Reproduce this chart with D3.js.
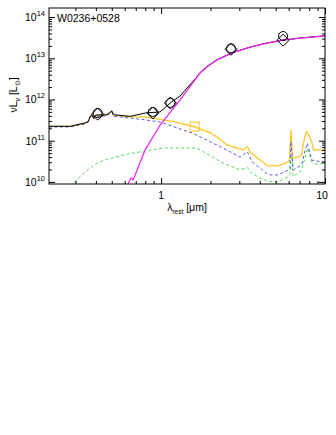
<!DOCTYPE html>
<html>
<head>
<meta charset="utf-8">
<script src="https://cdn.jsdelivr.net/npm/d3@7"></script>
<style>
  body { margin: 0; background: #fff; }
  svg text { font-family: "Liberation Sans", Arial, sans-serif; fill: #000; }
</style>
</head>
<body>
<div id="viz"></div>
<script>
let w = 336;
let h = 435;

// ---- data (lambda in micron, nuLnu in Lsun) ----
let sourceName = "W0236+0528";

let totalLam = [0.207, 0.279, 0.344, 0.360, 0.369, 0.378, 0.387, 0.401, 0.467, 0.500, 0.512, 0.647, 0.80, 0.986, 1.135, 1.306, 1.65, 1.73, 1.935, 2.19, 2.71, 3.49, 4.43, 5.54, 7.04, 10];
let totalVal = [2.24e11, 2.24e11, 2.7e11, 2.95e11, 3.9e11, 4.27e11, 3.55e11, 4.2e11, 4.27e11, 5.3e11, 4.27e11, 3.9e11, 4.7e11, 5.0e11, 8.2e11, 1.22e12, 3.5e12, 4.5e12, 6.6e12, 9.2e12, 1.36e13, 1.87e13, 2.35e13, 2.76e13, 3.1e13, 3.5e13];

let hotLam = [0.62, 0.656, 0.675, 0.80, 0.986, 1.306, 1.73, 1.935, 2.19, 2.71, 3.49, 4.43, 5.54, 7.04, 10];
let hotVal = [8e9, 1.25e10, 1.12e10, 6.0e10, 2.4e11, 9.8e11, 4.4e12, 6.5e12, 9.1e12, 1.35e13, 1.86e13, 2.34e13, 2.75e13, 3.1e13, 3.5e13];

let hostLam = [0.207, 0.279, 0.344, 0.360, 0.369, 0.378, 0.387, 0.401, 0.467, 0.500, 0.512, 0.647, 0.80, 0.986, 1.217, 1.59, 2.0, 2.24, 2.52, 3.18, 3.37, 3.49, 4.01, 4.49, 5.17, 5.95, 6.07, 6.2, 6.34, 7.18, 7.46, 7.7, 7.98, 8.3, 8.5, 9.1, 10];
let hostVal = [2.22e11, 2.22e11, 2.68e11, 2.93e11, 3.85e11, 4.2e11, 3.5e11, 4.15e11, 4.2e11, 5.2e11, 4.2e11, 3.85e11, 3.8e11, 3.3e11, 2.85e11, 2.2e11, 1.55e11, 1.15e11, 7.9e10, 6.0e10, 7.2e10, 5.3e10, 3.4e10, 2.45e10, 2.45e10, 3.05e10, 3.3e10, 1.83e11, 3.76e10, 4.27e10, 1.04e11, 1.66e11, 1.38e11, 9.3e10, 6.0e10, 6.0e10, 5.8e10];

let blueLam = [0.207, 0.279, 0.344, 0.36, 0.369, 0.38, 0.388, 0.407, 0.469, 0.50, 0.513, 0.647, 0.80, 0.986, 1.19, 1.57, 2.29, 3.03, 3.36, 3.58, 4.01, 4.51, 5.19, 5.98, 6.1, 6.2, 6.4, 7.21, 7.5, 7.8, 8.3, 8.8, 10];
let blueVal = [2.15e11, 2.15e11, 2.56e11, 2.85e11, 3.66e11, 4.0e11, 3.37e11, 3.9e11, 4.0e11, 5.0e11, 3.9e11, 3.56e11, 3.2e11, 2.85e11, 2.2e11, 1.5e11, 7.2e10, 4.0e10, 5.4e10, 3.1e10, 2.18e10, 1.48e10, 1.48e10, 1.95e10, 2.1e10, 9.5e10, 1.95e10, 2.58e10, 5.3e10, 8.7e10, 3.4e10, 3.2e10, 3.1e10];

let greenLam = [0.28, 0.344, 0.405, 0.467, 0.629, 0.80, 1.058, 1.66, 1.81, 2.4, 3.03, 3.36, 3.49, 3.9, 4.51, 5.19, 5.98, 6.1, 6.24, 6.4, 7.21, 7.83, 8.3, 8.7, 10];
let greenVal = [8e9, 1.75e10, 2.84e10, 3.55e10, 4.77e10, 5.65e10, 6.7e10, 6.6e10, 5.4e10, 2.84e10, 1.95e10, 2.25e10, 1.75e10, 1.32e10, 1.02e10, 1.02e10, 1.34e10, 1.5e10, 4.5e10, 1.34e10, 1.95e10, 6.6e10, 3.05e10, 2.73e10, 2.84e10];

let photLam = [0.41, 0.89, 1.14, 2.67, 5.55];
let photVal = [4.7e11, 5.0e11, 8.3e11, 1.74e13, 3.47e13];
let modelVal = [4.4e11, 4.7e11, 8.2e11, 1.65e13, 2.75e13];

let squareLam = [1.6];
let squareVal = [2.2e11];

let yMajor = [1e10, 1e11, 1e12, 1e13, 1e14];
let yMajorExp = ["10", "11", "12", "13", "14"];
let xMajor = [1, 10];
let xMajorLabels = ["1", "10"];

// ---- layout ----
let padLeft = 49, padRight = 325, padTop = 8, padBottom = 184;

let viz = d3.select("#viz")
    .append("svg")
    .attr("width", w)
    .attr("height", h)
    .attr("viewBox", "0 0 " + w + " " + h);

let xScale = d3.scaleLog().domain([0.207, 10]).range([padLeft, padRight]);
let yScale = d3.scaleLog().domain([8.9e9, 1.66e14]).range([padBottom, padTop]);

viz.append("clipPath").attr("id", "plotClip")
    .append("rect")
    .attr("x", padLeft).attr("y", padTop)
    .attr("width", padRight - padLeft).attr("height", padBottom - padTop);

function toPoints(lams, vals) {
    return lams.map(function (l, i) { return [l, vals[i]]; });
}

let lineMaker = d3.line()
    .x(function (d) { return xScale(d[0]); })
    .y(function (d) { return yScale(d[1]); });

let curves = viz.append("g").attr("clip-path", "url(#plotClip)");

// draw order: back to front
curves.append("path")
    .attr("d", lineMaker(toPoints(greenLam, greenVal)))
    .attr("fill", "none")
    .attr("stroke", "#4fdc4f")
    .attr("stroke-width", 1)
    .attr("stroke-dasharray", "3,2.5");

curves.append("path")
    .attr("d", lineMaker(toPoints(hostLam, hostVal)))
    .attr("fill", "none")
    .attr("stroke", "#ffc21a")
    .attr("stroke-width", 1.2);

curves.append("path")
    .attr("d", lineMaker(toPoints(blueLam, blueVal)))
    .attr("fill", "none")
    .attr("stroke", "#4f5cf0")
    .attr("stroke-width", 1)
    .attr("stroke-dasharray", "3,2.5");

curves.append("path")
    .attr("d", lineMaker(toPoints(totalLam, totalVal)))
    .attr("fill", "none")
    .attr("stroke", "#000")
    .attr("stroke-width", 1);

curves.append("path")
    .attr("d", lineMaker(toPoints(hotLam, hotVal)))
    .attr("fill", "none")
    .attr("stroke", "#f21cf2")
    .attr("stroke-width", 1.2);

// yellow square marker
viz.selectAll(".sq").data(toPoints(squareLam, squareVal)).enter()
    .append("rect")
    .attr("class", "sq")
    .attr("x", function (d) { return xScale(d[0]) - 4.5; })
    .attr("y", function (d) { return yScale(d[1]) - 4.5; })
    .attr("width", 9).attr("height", 9)
    .attr("fill", "none")
    .attr("stroke", "#ffc21a")
    .attr("stroke-width", 1);

// photometry circles and model diamonds
viz.selectAll(".obs").data(toPoints(photLam, photVal)).enter()
    .append("circle")
    .attr("class", "obs")
    .attr("cx", function (d) { return xScale(d[0]); })
    .attr("cy", function (d) { return yScale(d[1]); })
    .attr("r", 4.5)
    .attr("fill", "none")
    .attr("stroke", "#000")
    .attr("stroke-width", 1);

viz.selectAll(".mod").data(toPoints(photLam, modelVal)).enter()
    .append("path")
    .attr("class", "mod")
    .attr("d", function (d) {
        let cx = xScale(d[0]), cy = yScale(d[1]), s = 6;
        return "M" + cx + "," + (cy - s) + "L" + (cx + s) + "," + cy + "L" + cx + "," + (cy + s) + "L" + (cx - s) + "," + cy + "Z";
    })
    .attr("fill", "none")
    .attr("stroke", "#000")
    .attr("stroke-width", 1);

// ---- axes (IDL style, ticks inward on all four sides) ----
let yMinor = [];
yMajor.forEach(function (m) {
    for (let k = 2; k <= 9; k++) {
        if (m * k < 1.66e14) yMinor.push(m * k);
    }
});
let xMinor = [0.3, 0.4, 0.5, 0.6, 0.7, 0.8, 0.9, 2, 3, 4, 5, 6, 7, 8, 9];

let axisStyle = function (g) {
    g.select(".domain").remove();
    g.selectAll("line").attr("stroke", "#000").attr("stroke-width", 1);
};

viz.append("g").attr("transform", "translate(" + padLeft + ",0)")
    .call(d3.axisLeft(yScale).tickValues(yMajor).tickSize(-6).tickFormat(""))
    .call(axisStyle);
viz.append("g").attr("transform", "translate(" + padLeft + ",0)")
    .call(d3.axisLeft(yScale).tickValues(yMinor).tickSize(-3).tickFormat(""))
    .call(axisStyle);
viz.append("g").attr("transform", "translate(" + padRight + ",0)")
    .call(d3.axisRight(yScale).tickValues(yMajor).tickSize(-6).tickFormat(""))
    .call(axisStyle);
viz.append("g").attr("transform", "translate(" + padRight + ",0)")
    .call(d3.axisRight(yScale).tickValues(yMinor).tickSize(-3).tickFormat(""))
    .call(axisStyle);

viz.append("g").attr("transform", "translate(0," + padBottom + ")")
    .call(d3.axisBottom(xScale).tickValues(xMajor).tickSize(-6).tickFormat(""))
    .call(axisStyle);
viz.append("g").attr("transform", "translate(0," + padBottom + ")")
    .call(d3.axisBottom(xScale).tickValues(xMinor).tickSize(-3).tickFormat(""))
    .call(axisStyle);
viz.append("g").attr("transform", "translate(0," + padTop + ")")
    .call(d3.axisTop(xScale).tickValues(xMajor).tickSize(-6).tickFormat(""))
    .call(axisStyle);
viz.append("g").attr("transform", "translate(0," + padTop + ")")
    .call(d3.axisTop(xScale).tickValues(xMinor).tickSize(-3).tickFormat(""))
    .call(axisStyle);

// frame
viz.append("rect")
    .attr("x", padLeft).attr("y", padTop)
    .attr("width", padRight - padLeft).attr("height", padBottom - padTop)
    .attr("fill", "none")
    .attr("stroke", "#000")
    .attr("stroke-width", 1);

// y tick labels 10^n
yMajor.forEach(function (v, i) {
    let t = viz.append("text")
        .attr("x", 45)
        .attr("y", yScale(v) + 4)
        .attr("text-anchor", "end")
        .attr("font-size", 10.5);
    t.append("tspan").text("10");
    t.append("tspan").attr("dy", -5).attr("font-size", 7.5).text(yMajorExp[i]);
});

// x tick labels
xMajor.forEach(function (v, i) {
    viz.append("text")
        .attr("x", xScale(v) - (i == 1 ? 3 : 0))
        .attr("y", 199)
        .attr("text-anchor", "middle")
        .attr("font-size", 10.5)
        .text(xMajorLabels[i]);
});

// x label
let xl = viz.append("text")
    .attr("x", 187)
    .attr("y", 211)
    .attr("text-anchor", "middle")
    .attr("font-size", 10.5);
xl.append("tspan").text("\u03bb");
xl.append("tspan").attr("dy", 2.5).attr("font-size", 6.5).text("rest");
xl.append("tspan").attr("dy", -2.5).text(" [\u03bcm]");

// y label
let yl = viz.append("text")
    .attr("transform", "translate(17,95) rotate(-90)")
    .attr("text-anchor", "middle")
    .attr("font-size", 10.5);
yl.append("tspan").text("\u03bdL");
yl.append("tspan").attr("dy", 2.5).attr("font-size", 7).text("\u03bd");
yl.append("tspan").attr("dy", -2.5).text(" [L");
yl.append("tspan").attr("dy", 2.5).attr("font-size", 7).text("\u2299");
yl.append("tspan").attr("dy", -2.5).text("]");

// source name
viz.append("text")
    .attr("x", 57)
    .attr("y", 22)
    .attr("font-size", 10.5)
    .text(sourceName);
</script>
</body>
</html>
